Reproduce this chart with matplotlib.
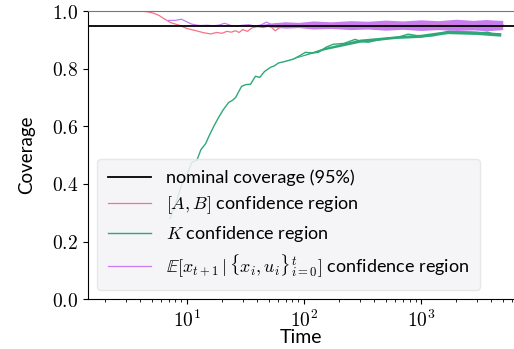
import numpy as np
import matplotlib
matplotlib.use("Agg")
import matplotlib.pyplot as plt

plt.rcParams['font.family'] = ['Lato', 'DejaVu Sans']
plt.rcParams['mathtext.fontset'] = 'cm'

# [A, B] confidence region coverage
ab_t = [1.43, 2, 3, 4, 4.6, 5.2, 5.8, 6.5, 7.3, 8.5, 10, 12, 14, 16, 18, 20, 22, 24,
        26, 28, 30, 33, 36, 40, 45, 50, 53, 57, 64, 75, 90, 110, 140, 200, 300,
        500, 800, 1500, 3000, 5000]
ab_v = [1.0, 1.0, 1.0, 1.0, 0.998, 0.993, 0.985, 0.972, 0.96, 0.952, 0.94, 0.932,
        0.925, 0.921, 0.926, 0.923, 0.93, 0.927, 0.932, 0.926, 0.936, 0.93, 0.942,
        0.946, 0.943, 0.948, 0.944, 0.932, 0.946, 0.95, 0.948, 0.953, 0.95, 0.952,
        0.949, 0.951, 0.95, 0.952, 0.95, 0.951]

# K confidence region coverage
k_t = [7.2, 8, 9.1, 10, 11, 12.2, 13.2, 14.5, 15.4, 17, 18.7, 20.6, 22.8, 24.5, 26.1,
       29.4, 32, 35, 38.6, 42, 46, 51.9, 56, 60.6, 70, 80.9, 92, 103, 118, 133, 155,
       178, 220, 274, 308, 354, 430, 524, 640, 778, 1000, 1300, 1700, 2100, 2670,
       3200, 3730, 4300, 4800]
k_v = [0.28, 0.33, 0.40, 0.43, 0.474, 0.482, 0.519, 0.54, 0.564, 0.60, 0.631, 0.659,
       0.683, 0.69, 0.70, 0.739, 0.745, 0.746, 0.774, 0.77, 0.79, 0.805, 0.81, 0.82,
       0.826, 0.833, 0.845, 0.857, 0.855, 0.857, 0.875, 0.885, 0.888, 0.902, 0.895,
       0.892, 0.90, 0.906, 0.91, 0.92, 0.913, 0.915, 0.930, 0.928, 0.927, 0.925,
       0.927, 0.918, 0.92]
# spread of the K curve (noise band) at late times
k_band_t = [60, 150, 300, 600, 1000, 1700, 3000, 4800]
k_band_lo = [0.82, 0.866, 0.892, 0.905, 0.909, 0.922, 0.919, 0.913]
k_band_hi = [0.82, 0.874, 0.903, 0.914, 0.92, 0.933, 0.931, 0.925]

# E[x_{t+1} | ...] confidence region coverage
e_t = [7, 8, 9, 10, 11, 12, 13, 15, 17, 19, 21, 24, 27, 30, 34, 38, 43, 48, 55, 62,
       70, 80, 100, 150, 300, 1000, 3000, 5000]
e_v = [0.968, 0.968, 0.972, 0.963, 0.955, 0.952, 0.95, 0.951, 0.949, 0.952, 0.958,
       0.95, 0.949, 0.951, 0.953, 0.948, 0.952, 0.962, 0.95, 0.955, 0.958, 0.952,
       0.953, 0.952, 0.952, 0.951, 0.952, 0.953]
# spread of the E curve (noise band)
e_band_t = [40, 55, 70, 90, 120, 170, 250, 350, 500, 700, 1000, 1400, 2000, 2800,
            3600, 4300, 5000]
e_band_lo = [0.95, 0.944, 0.941, 0.943, 0.938, 0.94, 0.936, 0.938, 0.934, 0.937,
             0.933, 0.936, 0.933, 0.935, 0.932, 0.934, 0.936]
e_band_hi = [0.952, 0.96, 0.963, 0.961, 0.966, 0.963, 0.967, 0.965, 0.969, 0.966,
             0.97, 0.967, 0.972, 0.968, 0.971, 0.969, 0.968]

nominal = 0.95
pink, green, purple = '#f77189', '#2fa877', '#c77cf0'

fig = plt.figure(figsize=(5.14, 3.49), dpi=100)
ax = fig.add_axes([0.171, 0.143, 0.829, 0.825])

ax.axhline(nominal, color='black', lw=1.3, label='nominal coverage (95%)', zorder=5)
ax.plot(ab_t, ab_v, color=pink, lw=0.9, label='$[A, B]$ confidence region')
ax.plot(k_t, k_v, color=green, lw=1.0, label='$K$ confidence region')
ax.fill_between(k_band_t, k_band_lo, k_band_hi, color=green, lw=0)
ax.plot(e_t, e_v, color=purple, lw=0.9,
        label=r'$\mathbb{E}[x_{t+1}\,|\,\{x_i,u_i\}_{i=0}^t]$ confidence region')
ax.fill_between(e_band_t, e_band_lo, e_band_hi, color=purple, lw=0)

ax.set_xscale('log')
ax.set_xlim(1.43, 6240)
ax.set_ylim(0, 1.0)
xt = [10, 100, 1000]
ax.set_xticks(xt)
ax.set_xticklabels([f'$10^{{{int(np.log10(v))}}}$' for v in xt])
yt = [0.0, 0.2, 0.4, 0.6, 0.8, 1.0]
ax.set_yticks(yt)
ax.set_yticklabels([f'${v:.1f}$' for v in yt])
ax.tick_params(labelsize=14)
ax.spines['right'].set_visible(False)
ax.spines['top'].set_color('#777777')
ax.set_xlabel('Time', fontsize=14, labelpad=-1)
ax.set_ylabel('Coverage', fontsize=13.5, labelpad=12)

ax.legend(loc='lower left', fontsize=13, facecolor='#f4f4f6', edgecolor='#e4e4e8',
          framealpha=0.85, handlelength=2.4, labelspacing=0.45, borderpad=0.6)

fig.savefig('out.png', dpi=100)
